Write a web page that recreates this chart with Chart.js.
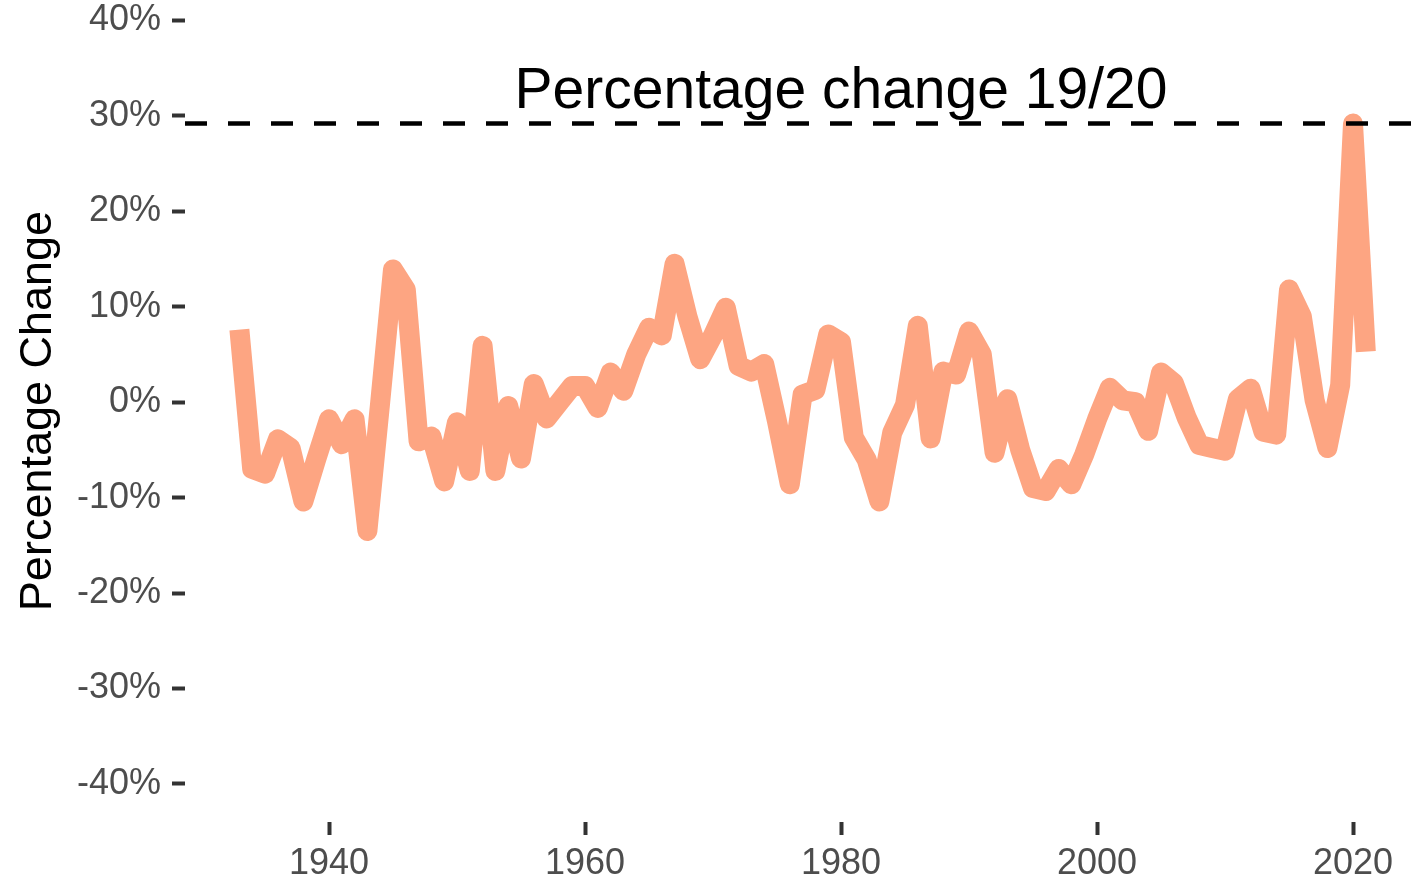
<!DOCTYPE html>
<html>
<head>
<meta charset="utf-8">
<script src="https://cdn.jsdelivr.net/npm/chart.js@4.4.1/dist/chart.umd.min.js"></script>
<style>
  html, body { margin: 0; padding: 0; background: #fff; }
  #wrap { width: 1417px; height: 884px; position: relative; }
</style>
</head>
<body>
<div id="wrap"><canvas id="pctChart"></canvas></div>
<script>
// years 1933..2021
const years = [
  1933, 1934, 1935, 1936, 1937, 1938, 1939, 1940, 1941, 1942,
  1943, 1944, 1945, 1946, 1947, 1948, 1949, 1950, 1951, 1952,
  1953, 1954, 1955, 1956, 1957, 1958, 1959, 1960, 1961, 1962,
  1963, 1964, 1965, 1966, 1967, 1968, 1969, 1970, 1971, 1972,
  1973, 1974, 1975, 1976, 1977, 1978, 1979, 1980, 1981, 1982,
  1983, 1984, 1985, 1986, 1987, 1988, 1989, 1990, 1991, 1992,
  1993, 1994, 1995, 1996, 1997, 1998, 1999, 2000, 2001, 2002,
  2003, 2004, 2005, 2006, 2007, 2008, 2009, 2010, 2011, 2012,
  2013, 2014, 2015, 2016, 2017, 2018, 2019, 2020, 2021
];
const pctChange = [
   7.6,  -7.0,  -7.5,  -3.9,  -4.8, -10.4,  -6.0,  -1.8,  -4.4,  -1.8,
 -13.5,   0.0,  13.9,  11.8,  -4.1,  -3.6,  -8.3,  -2.1,  -7.2,   5.9,
  -7.2,  -0.4,  -5.9,   1.9,  -1.7,   0.0,   1.7,   1.7,  -0.6,   3.1,
   1.2,   5.0,   7.8,   7.0,  14.5,   9.0,   4.5,   7.0,   9.9,   3.8,
   3.2,   4.0,  -2.0,  -8.6,   0.8,   1.3,   7.1,   6.3,  -3.7,  -6.0,
 -10.4,  -3.2,  -0.3,   8.0,  -3.8,   3.2,   2.9,   7.4,   5.0,  -5.3,
   0.3,  -5.0,  -9.0,  -9.3,  -7.0,  -8.6,  -5.5,  -1.8,   1.5,   0.2,
   0.0,  -3.0,   3.1,   2.0,  -1.6,  -4.5,  -4.8,  -5.1,   0.3,   1.4,
  -3.1,  -3.4,  11.8,   9.0,   0.2,  -4.8,   1.8,  29.2,   5.3
];
const xTicks = [1940, 1960, 1980, 2000, 2020];
const yTicks = [-40, -30, -20, -10, 0, 10, 20, 30, 40];
const xRange = [1928.75, 2025];
const yRange = [-44, 42.15];

// reference line = the 2019/20 change
const refValue = pctChange[years.indexOf(2020)];
const annotText = 'Percentage change 19/20';
const annotPos = [1980, 30.8];

const FONT = "'Liberation Sans', Arial, Helvetica, sans-serif";

const annotPlugin = {
  id: 'annot',
  afterDatasetsDraw(chart) {
    const ctx = chart.ctx;
    const x = chart.scales.x.getPixelForValue(annotPos[0]);
    const y = chart.scales.y.getPixelForValue(annotPos[1]);
    ctx.save();
    ctx.font = '57px ' + FONT;
    ctx.fillStyle = '#000';
    ctx.textAlign = 'center';
    ctx.textBaseline = 'alphabetic';
    ctx.fillText(annotText, x, y);
    ctx.restore();
  }
};

const ctx = document.getElementById('pctChart').getContext('2d');

new Chart(ctx, {
  type: 'line',
  data: {
    datasets: [
      {
        // dashed reference line
        data: [{x: xRange[0], y: refValue}, {x: xRange[1], y: refValue}],
        borderColor: '#000',
        borderWidth: 4.5,
        borderDash: [22, 21],
        pointRadius: 0,
        tension: 0
      },
      {
        data: years.map((yr, i) => ({x: yr, y: pctChange[i]})),
        borderColor: '#FDA582',
        borderWidth: 20,
        borderJoinStyle: 'round',
        borderCapStyle: 'butt',
        pointRadius: 0,
        tension: 0
      }
    ]
  },
  options: {
    responsive: true,
    maintainAspectRatio: false,
    animation: false,
    layout: { padding: 0 },
    plugins: {
      legend: { display: false },
      tooltip: { enabled: false }
    },
    scales: {
      x: {
        type: 'linear',
        min: xRange[0],
        max: xRange[1],
        border: { display: false },
        grid: {
          drawOnChartArea: false,
          drawTicks: true,
          tickLength: 13,
          tickWidth: 4,
          tickColor: '#333333'
        },
        ticks: {
          autoSkip: false,
          maxRotation: 0,
          padding: 7,
          color: '#4d4d4d',
          font: { family: FONT, size: 36 },
          callback: v => String(v)
        },
        afterBuildTicks: s => { s.ticks = xTicks.map(v => ({value: v})); },
        afterFit: s => { s.height = 62; s.paddingLeft = 0; s.paddingRight = 0; }
      },
      y: {
        min: yRange[0],
        max: yRange[1],
        border: { display: false },
        grid: {
          drawOnChartArea: false,
          drawTicks: true,
          tickLength: 13,
          tickWidth: 4,
          tickColor: '#333333'
        },
        ticks: {
          autoSkip: false,
          padding: 11,
          color: '#4d4d4d',
          font: { family: FONT, size: 36 },
          callback: v => v + '%'
        },
        title: {
          display: true,
          text: 'Percentage Change',
          color: '#000',
          font: { family: FONT, size: 45 },
          padding: { top: 12, bottom: 0 }
        },
        afterBuildTicks: s => { s.ticks = yTicks.map(v => ({value: v})); },
        afterFit: s => { s.width = 185; s.paddingTop = 0; s.paddingBottom = 0; }
      }
    }
  },
  plugins: [annotPlugin]
});
</script>
</body>
</html>
